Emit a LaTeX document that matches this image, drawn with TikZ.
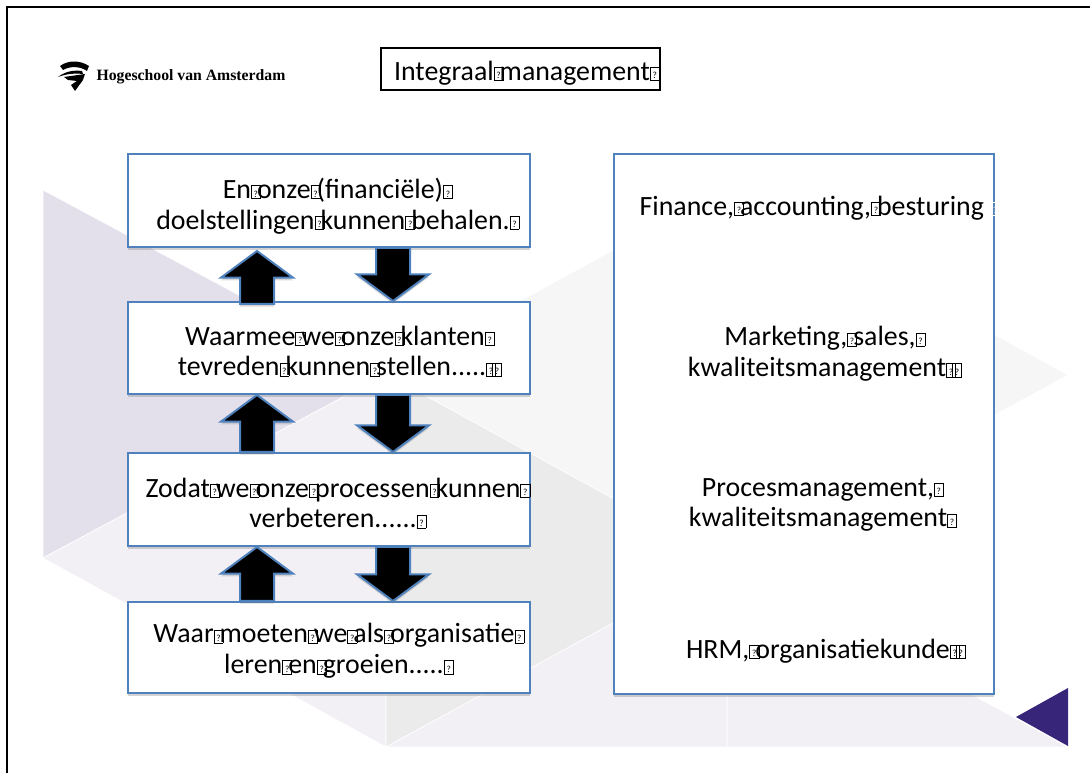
\documentclass[tikz,border=0pt]{standalone}
\usepackage{fontspec}
\setmainfont{Carlito}
\newfontfamily\logofont{Liberation Serif}
\usetikzlibrary{calc,shadows}
\definecolor{kaderblauw}{HTML}{4F81BD}
\definecolor{lila}{HTML}{E3E0EC}
\definecolor{lilalicht}{HTML}{F2F0F5}
\definecolor{grijs}{HTML}{EBEBEB}
\definecolor{grijslicht}{HTML}{F6F6F6}
\definecolor{paars}{HTML}{372579}
\newcommand{\tofu}{\makebox[4.5pt][l]{\fboxsep=0pt\fboxrule=.4pt\fbox{\makebox[6.5pt]{\rule{0pt}{9.5pt}\raisebox{1pt}{\fontsize{7}{7}\selectfont ?}}}}}
\begin{document}
\begin{tikzpicture}[x=.75pt,y=-.75pt,
vlak/.style={draw=white,line width=.5pt},
blok/.style={rectangle,draw=kaderblauw,fill=white,line width=1.5pt,inner sep=0pt,drop shadow={shadow xshift=0pt,shadow yshift=-2pt,opacity=.35}},
tekst/.style={align=center,inner sep=0pt,font=\fontsize{20.9}{23}\selectfont},
blokpijl/.style={fill=black,draw=kaderblauw,line width=1.5pt,line join=miter,drop shadow={shadow xshift=0pt,shadow yshift=-2pt,opacity=.3},
to path={($(\tikztostart)!-12.75pt!90:(\tikztotarget)$) -- ($(\tikztotarget)!20pt!(\tikztostart)!12.75pt!90:(\tikztostart)$) -- ($(\tikztotarget)!20pt!(\tikztostart)!27pt!90:(\tikztostart)$) -- (\tikztotarget) -- ($(\tikztotarget)!20pt!(\tikztostart)!-27pt!90:(\tikztostart)$) -- ($(\tikztotarget)!20pt!(\tikztostart)!-12.75pt!90:(\tikztostart)$) -- ($(\tikztostart)!12.75pt!90:(\tikztotarget)$) -- cycle}}]
\useasboundingbox (0,0) rectangle (1090,773);
% achtergrond
\begin{scope}
\fill[lila,vlak] (43,190) -- (386,374) -- (43,558) -- cycle;
\fill[lilalicht,vlak] (43,558) -- (386,374) -- (386,747) -- cycle;
\fill[grijslicht,vlak] (386,374) -- (727,188) -- (727,561) -- cycle;
\fill[grijslicht,vlak] (727,188) -- (1068,375) -- (727,561) -- cycle;
\fill[grijs,vlak] (386,374) -- (727,561) -- (386,747) -- cycle;
\fill[lilalicht,vlak] (386,747) -- (727,561) -- (727,747) -- cycle;
\fill[lilalicht,vlak] (727,561) -- (1068,747) -- (727,747) -- cycle;
\fill[paars] (1068,688) -- (1016,717) -- (1068,746) -- cycle;
\end{scope}
\draw[black,line width=1.5pt] (7,773) -- (7,7) -- (1090,7);
% logo
\begin{scope}
\fill[black] (60,66) .. controls (68,60) and (80,60) .. (89,66) -- (87,71) .. controls (80,66) and (70,66) .. (63,70) -- cycle;
\fill[black] (58,77) .. controls (66,71) and (74,70) .. (82,71) -- (83,74) .. controls (74,73) and (66,74) .. (58,77) -- cycle;
\fill[black] (64,77) -- (85,74) -- (83,80) -- (75,91) -- (71,85) -- (77,81) -- (68,80) -- cycle;
\end{scope}
\node[inner sep=0pt,font=\logofont\bfseries\fontsize{11.8}{13}\selectfont] (logo) at (191,77) {Hogeschool van Amsterdam};
\node[rectangle,draw=black,line width=1.1pt,minimum width=209pt,minimum height=31.5pt,inner sep=0pt] (titel) at (520.5,69) {};
\node[tekst] (titeltekst) at (525,73) {Integraal\tofu management\tofu};
\begin{scope}
\node[blok,minimum width=301.5pt,minimum height=69.75pt] (box1) at (329,200.5) {};
\node[blok,minimum width=301.5pt,minimum height=69pt] (box2) at (329,348) {};
\node[blok,minimum width=301.5pt,minimum height=69.75pt] (box3) at (329,499.5) {};
\node[blok,minimum width=301.5pt,minimum height=68.25pt] (box4) at (329,647.5) {};
\node[blok,minimum width=285pt,minimum height=405pt] (box5) at (804,424) {};
\end{scope}
\coordinate (pijlop) at (257,0);
\coordinate (pijlneer) at (393,0);
\begin{scope}
\draw[blokpijl] ($(box2.north -| pijlop)+(0,3)$) to ($(box1.south -| pijlop)+(0,3)$);
\draw[blokpijl] (box3.north -| pijlop) to (box2.south -| pijlop);
\draw[blokpijl] (box4.north -| pijlop) to (box3.south -| pijlop);
\draw[blokpijl] (box1.south -| pijlneer) to (box2.north -| pijlneer);
\draw[blokpijl] (box2.south -| pijlneer) to (box3.north -| pijlneer);
\draw[blokpijl] (box3.south -| pijlneer) to (box4.north -| pijlneer);
\end{scope}
\begin{scope}
\node[tekst] (tekst1) at (336,206) {En\tofu onze\tofu(financiële)\tofu\\doelstellingen\tofu kunnen\tofu behalen.\tofu};
\node[tekst] (tekst2) at (338,351) {Waarmee\tofu we\tofu onze\tofu klanten\tofu\\tevreden\tofu kunnen\tofu stellen.....\tofu\tofu};
\node[tekst] (tekst3) at (336,503) {Zodat\tofu we\tofu onze\tofu processen\tofu kunnen\tofu\\verbeteren......\tofu};
\node[tekst] (tekst4) at (337,651) {Waar\tofu moeten\tofu we\tofu als\tofu organisatie\tofu\\leren\tofu en\tofu groeien.....\tofu};
\node[tekst] (tekst5) at (818,208) {Finance,\tofu accounting,\tofu besturing\ \textcolor{white}{\tofu}};
\node[tekst] (tekst6) at (823,354) {Marketing,\tofu sales,\tofu\\kwaliteitsmanagement\tofu\tofu};
\node[tekst] (tekst7) at (821,505) {Procesmanagement,\tofu\\kwaliteitsmanagement\tofu};
\node[tekst] (tekst8) at (824,651) {HRM,\tofu organisatiekunde\tofu\tofu};
\end{scope}
\end{tikzpicture}
\end{document}
